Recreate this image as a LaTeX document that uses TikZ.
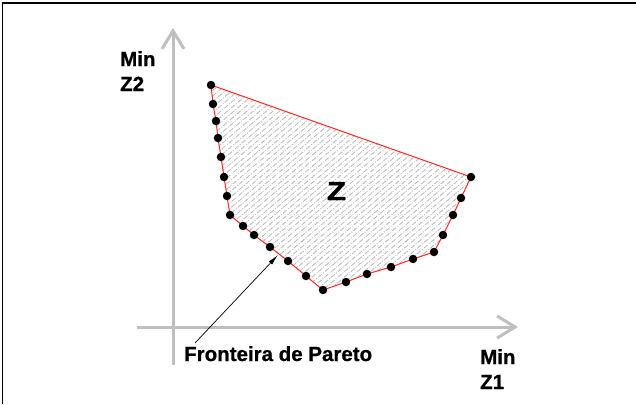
\documentclass[tikz,border=0pt]{standalone}
\usepackage{fontspec}
\setmainfont{Liberation Sans}[BoldFont={Liberation Sans Bold}]
\newfontfamily\lblfont{Liberation Sans Bold}[FakeBold=0.8]
\newfontfamily\zfont{Liberation Sans Bold}[FakeBold=1.5]
\usetikzlibrary{arrows.meta}
\begin{document}
\begin{tikzpicture}[x=1bp,y=-1bp,
  dot/.style={circle,fill=black,inner sep=0pt,minimum size=8.5bp},
  axisline/.style={line width=3bp,draw=black!25,-{Straight Barb[length=18bp,width=22bp]}},
  lbl/.style={font=\lblfont\fontsize{20.5bp}{24bp}\selectfont,inner sep=0pt},
  front/.style={draw=red!85!white,line width=1bp},
  hatch/.style={draw=black!28,line width=0.8bp,dash pattern=on 5bp off 1.5bp on 1bp off 1.5bp},
  frame/.style={draw=black}]
\useasboundingbox (0,0) rectangle (636,404);
% frame
\draw[frame,line width=2.2bp] (1.5,2.6) -- (636,2.6);
\draw[frame,line width=1.4bp] (2.4,2) -- (2.4,404);
% points
\foreach \i/\x/\y in {1/211/85,2/213/104,3/216/121,4/218/138,5/221/157,6/224/177,7/227/196,8/230/215,
  9/243/226,10/254/235,11/270/247,12/288/261,13/306/276,14/323/290,15/346/282,16/367/274,
  17/391/267,18/413/259,19/434/252,20/443/235,21/453/215,22/461/198,23/471/177}
  \coordinate (c\i) at (\x,\y);
% hatching
\begin{scope}
  \clip (c1) \foreach \i in {2,...,23} {-- (c\i)} -- cycle;
  \foreach \k in {150,156.5,...,1000} \draw[hatch] (\k,0) -- (\k-470,400);
\end{scope}
% axes
\coordinate (ybot) at (173,365);
\coordinate (ytop) at (173,28);
\coordinate (xleft) at (137,327);
\coordinate (xright) at (518,327);
\draw[axisline] (ybot) -- (ytop);
\draw[axisline] (xleft) -- (xright);
% frontier polygon
\draw[front] (c1) \foreach \i in {2,...,23} {-- (c\i)} -- cycle;
\foreach \i in {1,...,23} \node[dot] (d\i) at (c\i) {};
% labels
\node[lbl,anchor=base west] (minz2) at (120,66) {Min};
\node[lbl,anchor=base west] (z2) at (120,91) {Z2};
\node[lbl,anchor=base west] (minz1) at (480,364) {Min};
\node[lbl,anchor=base west] (z1) at (480,389) {Z1};
\node[lbl,anchor=base west] (fp) at (184,361) {Fronteira de Pareto};
\node[font=\zfont\fontsize{26bp}{28bp}\selectfont,inner sep=0pt,anchor=base] (zreg) at (336.5,200) {\scalebox{1.2}[1]{Z}};
% pointer
\coordinate (fstart) at (195,343);
\coordinate (tip) at (278,255);
\draw[line width=0.7bp,-{Latex[length=11bp,width=4.5bp]}] (fstart) -- (tip);
\end{tikzpicture}
\end{document}
